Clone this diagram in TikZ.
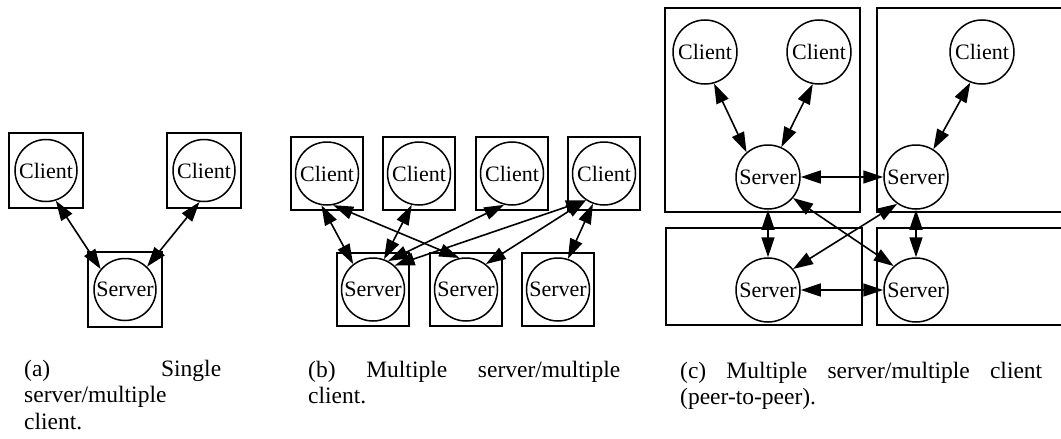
\documentclass[tikz,border=0pt]{standalone}
\usepackage{fontspec}
\setmainfont{Liberation Serif}
\usetikzlibrary{arrows.meta}

\begin{document}
\begin{tikzpicture}[x=1pt,y=-1pt,
  peer/.style={circle,draw,line width=1.5pt,minimum size=#1,inner sep=0pt,
    font=\fontsize{22}{24}\selectfont},
  peer/.default=63pt,
  cell/.style={rectangle,draw,line width=1.8pt,inner sep=0pt},
  cellb/.style={cell,minimum width=74pt,minimum height=75pt},
  cellm/.style={cell,minimum width=72pt,minimum height=73pt},
  link/.style={line width=1.6pt,
    {Triangle[length=20pt,width=13pt]}-{Triangle[length=20pt,width=13pt]}},
  caption/.style={anchor=base west,inner sep=0pt,
    font=\fontsize{23.5}{26.5}\selectfont}]
\useasboundingbox (0,0) rectangle (1061,439);

% ---------- (a) single server / multiple client ----------
\node[cellb] (ba1) at (46,170.5) {};
\node[cellb] (ba2) at (204,170.5) {};
\node[cellb] (ba3) at (125,289.5) {};
\node[peer=62pt] (a1) at (46,170.5) {\makebox[0pt]{Client}};
\node[peer=62pt] (a2) at (204,170.5) {\makebox[0pt]{Client}};
\node[peer=62pt] (a3) at (125,289.5) {\makebox[0pt]{Server}};
\draw[link] (a1.288) -- (a3.140);
\draw[link] (a2.262) -- (a3.46);

% ---------- (b) multiple server / multiple client ----------
\foreach \x/\n in {327/1,419/2,512/3,604/4}
  \node[cellm] (bc\n) at (\x,173.5) {};
\foreach \x/\n in {373/1,466/2,558/3}
  \node[cellm] (bs\n) at (\x,289.5) {};
\node[peer] (c1) at (327,173.5) {\makebox[0pt]{Client}};
\node[peer] (c2) at (419,173.5) {\makebox[0pt]{Client}};
\node[peer] (c3) at (512,173.5) {\makebox[0pt]{Client}};
\node[peer] (c4) at (604,173.5) {\makebox[0pt]{Client}};
\node[peer] (s1) at (373,289.5) {\makebox[0pt]{Server}};
\node[peer] (s2) at (466,289.5) {\makebox[0pt]{Server}};
\node[peer] (s3) at (558,289.5) {\makebox[0pt]{Server}};
\draw[link] (c1.260) -- (s1.128);
\draw[link] (c1.281) -- (s2.102);
\draw[link] (c2.257) -- (s1.70);
\draw[link] (c3.256) -- (s1.62);
\draw[link] (c4.236) -- (s1.48);
\draw[link] (c4.236) -- (s2.52);
\draw[link] (c4.250) -- (s3.72);

% ---------- (c) peer-to-peer ----------
\draw[line width=1.8pt] (665,8) rectangle (860,212);
\draw[line width=1.8pt] (877,8) rectangle (1075,212);
\draw[line width=1.8pt] (666,228) rectangle (862,325);
\draw[line width=1.8pt] (877,228) rectangle (1075,325);
\node[peer=64pt] (p1) at (705,52) {\makebox[0pt]{Client}};
\node[peer=64pt] (p2) at (819,52) {\makebox[0pt]{Client}};
\node[peer=64pt] (p3) at (982,52) {\makebox[0pt]{Client}};
\node[peer=64pt] (q1) at (768,177) {\makebox[0pt]{Server}};
\node[peer=64pt] (q2) at (916,177) {\makebox[0pt]{Server}};
\node[peer=64pt] (q3) at (768,290) {\makebox[0pt]{Server}};
\node[peer=64pt] (q4) at (916,290) {\makebox[0pt]{Server}};
\draw[link] (p1.286) -- (q1.131);
\draw[link] (p2.259) -- (q1.66);
\draw[link] (p3.249) -- (q2.58);
\draw[link] (q1.east) -- (q2.west);
\draw[link] (q1.south) -- (q3.north);
\draw[link] (q1.320) -- (q4.133);
\draw[link] (q2.235) -- (q3.40);
\draw[link] (q2.south) -- (q4.north);
\draw[link] (q3.east) -- (q4.west);

% ---------- captions ----------
\node[caption] (capa) at (24,376)
  {\parbox[t]{197pt}{(a)\hfill Single\\server/multiple\\client.}};
\node[caption] (capb) at (308,377)
  {\parbox[t]{312pt}{(b)\hfill Multiple\hfill server/multiple\\client.}};
\node[caption] (capc) at (680,378)
  {\parbox[t]{362pt}{(c)\hfill Multiple\hfill server/multiple\hfill client\\(peer-to-peer).}};
\end{tikzpicture}
\end{document}
